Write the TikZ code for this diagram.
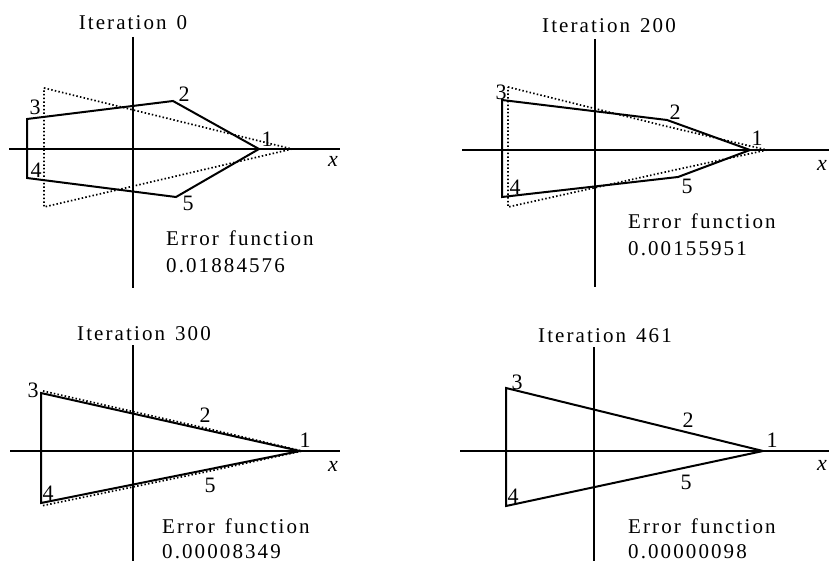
\documentclass[tikz,border=0pt]{standalone}
\usepackage{fontspec}
\setmainfont{Liberation Serif}
\newfontfamily\spacedfont[LetterSpace=10]{Liberation Serif}
\begin{document}
\begin{tikzpicture}[x=1pt,y=-1pt,
  axis/.style={line width=1.4pt},
  simplex/.style={line width=2pt, line join=miter},
  oldsimplex/.style={line width=1.7pt, dash pattern=on 1.5pt off 2.2pt},
  lbl/.style={inner sep=0pt, font=\fontsize{22}{22}\selectfont},
  xlbl/.style={inner sep=0pt, font=\fontsize{22}{22}\selectfont\itshape},
  ttl/.style={inner sep=0pt, anchor=base, font=\spacedfont\fontsize{21}{21}\selectfont},
  errtxt/.style={inner sep=0pt, anchor=base west, font=\spacedfont\fontsize{21}{21}\selectfont},
]
\useasboundingbox (0,0) rectangle (829,561);

% ---------------- Panel 1 : Iteration 0 ----------------
\coordinate (a1l) at (9,149);   \coordinate (a1r) at (340,149);
\coordinate (a1t) at (133,37);  \coordinate (a1b) at (133,288);
\draw[axis] (a1l) -- (a1r);
\draw[axis] (a1t) -- (a1b);
\coordinate (d1a) at (44,88); \coordinate (d1b) at (292,149); \coordinate (d1c) at (44,207);
\draw[oldsimplex] (d1a) -- (d1b) -- (d1c) -- cycle;
\coordinate (p1v1) at (259,149); \coordinate (p1v2) at (173,101);
\coordinate (p1v3) at (27,119);  \coordinate (p1v4) at (27,178);
\coordinate (p1v5) at (176,197);
\draw[simplex] (p1v1) -- (p1v2) -- (p1v3) -- (p1v4) -- (p1v5) -- cycle;
\node[lbl] (p1l1) at (267,139) {1};
\node[lbl] (p1l2) at (184,94) {2};
\node[lbl] (p1l3) at (35,107) {3};
\node[lbl] (p1l4) at (36,170) {4};
\node[lbl] (p1l5) at (188,203) {5};
\node[xlbl] (p1x) at (333,161) {x};
\node[ttl] (p1t) at (133,30) {Iteration\hspace{10pt}0};
\node[errtxt] (p1e) at (166,246) {Error\hspace{10pt}function};
\node[errtxt] (p1n) at (166,272) {0.01884576};

% ---------------- Panel 2 : Iteration 200 ----------------
\coordinate (a2l) at (462,150); \coordinate (a2r) at (829,150);
\coordinate (a2t) at (595,39);  \coordinate (a2b) at (595,287);
\draw[axis] (a2l) -- (a2r);
\draw[axis] (a2t) -- (a2b);
\coordinate (d2a) at (508,87); \coordinate (d2b) at (665,126); \coordinate (d2c) at (767,150);
\coordinate (d2d) at (670,171); \coordinate (d2e) at (508,207);
\draw[oldsimplex] (d2a) -- (d2b) -- (d2c) -- (d2d) -- (d2e) -- cycle;
\coordinate (p2v1) at (750,150); \coordinate (p2v2) at (667,120);
\coordinate (p2v3) at (502,100); \coordinate (p2v4) at (502,197);
\coordinate (p2v5) at (678,177);
\draw[simplex] (p2v1) -- (p2v2) -- (p2v3) -- (p2v4) -- (p2v5) -- cycle;
\node[lbl] (p2l1) at (757,138) {1};
\node[lbl] (p2l2) at (675,112) {2};
\node[lbl] (p2l3) at (501,92) {3};
\node[lbl] (p2l4) at (515,187) {4};
\node[lbl] (p2l5) at (687,186) {5};
\node[xlbl] (p2x) at (822,165) {x};
\node[ttl] (p2t) at (609,33) {Iteration\hspace{10pt}200};
\node[errtxt] (p2e) at (628,229) {Error\hspace{10pt}function};
\node[errtxt] (p2n) at (628,255) {0.00155951};

% ---------------- Panel 3 : Iteration 300 ----------------
\coordinate (a3l) at (10,451);  \coordinate (a3r) at (340,451);
\coordinate (a3t) at (133,345); \coordinate (a3b) at (133,561);
\draw[axis] (a3l) -- (a3r);
\draw[axis] (a3t) -- (a3b);
\coordinate (d3a) at (43,391); \coordinate (d3b) at (205,428); \coordinate (d3c) at (302,451);
\coordinate (d3d) at (210,471); \coordinate (d3e) at (41,506);
\draw[oldsimplex] (d3a) -- (d3b) -- (d3c) -- (d3d) -- (d3e);
\coordinate (p3v1) at (300,451); \coordinate (p3v3) at (41,393);
\coordinate (p3v4) at (41,503);
\draw[simplex] (p3v1) -- (p3v3) -- (p3v4) -- cycle;
\node[lbl] (p3l1) at (305,440) {1};
\node[lbl] (p3l2) at (205,415) {2};
\node[lbl] (p3l3) at (33,390) {3};
\node[lbl] (p3l4) at (48,493) {4};
\node[lbl] (p3l5) at (210,485) {5};
\node[xlbl] (p3x) at (333,466) {x};
\node[ttl] (p3t) at (144,340) {Iteration\hspace{10pt}300};
\node[errtxt] (p3e) at (162,533) {Error\hspace{10pt}function};
\node[errtxt] (p3n) at (162,558) {0.00008349};

% ---------------- Panel 4 : Iteration 461 ----------------
\coordinate (a4l) at (460,451); \coordinate (a4r) at (829,451);
\coordinate (a4t) at (594,347); \coordinate (a4b) at (594,561);
\draw[axis] (a4l) -- (a4r);
\draw[axis] (a4t) -- (a4b);
\coordinate (p4v1) at (763,451); \coordinate (p4v3) at (506,388);
\coordinate (p4v4) at (506,506);
\draw[simplex] (p4v1) -- (p4v3) -- (p4v4) -- cycle;
\node[lbl] (p4l1) at (772,440) {1};
\node[lbl] (p4l2) at (688,420) {2};
\node[lbl] (p4l3) at (517,382) {3};
\node[lbl] (p4l4) at (513,496) {4};
\node[lbl] (p4l5) at (686,482) {5};
\node[xlbl] (p4x) at (822,465) {x};
\node[ttl] (p4t) at (605,342) {Iteration\hspace{10pt}461};
\node[errtxt] (p4e) at (628,533) {Error\hspace{10pt}function};
\node[errtxt] (p4n) at (628,558) {0.00000098};
\end{tikzpicture}
\end{document}
